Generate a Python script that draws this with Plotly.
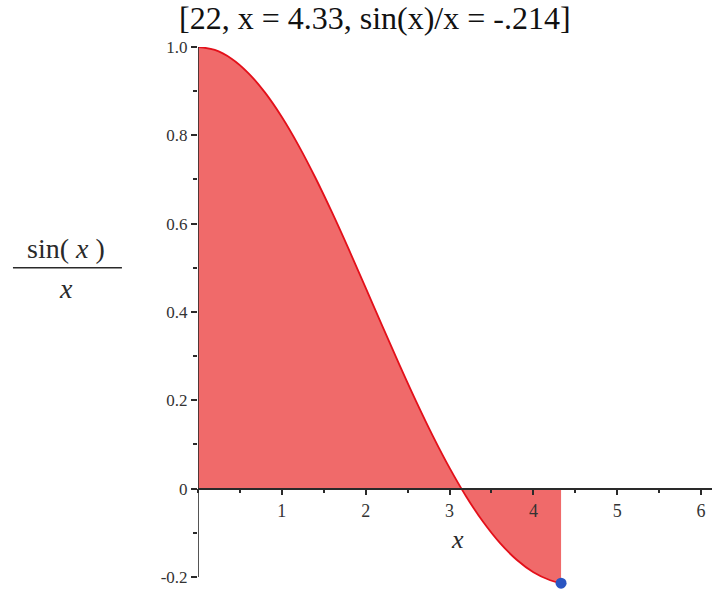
import plotly.graph_objects as go

# Sampled values of sin(x)/x on [0, 4.33]
xs = [0.0, 0.2, 0.4, 0.6, 0.8, 1.0, 1.2, 1.4, 1.6, 1.8, 2.0, 2.2, 2.4, 2.6,
      2.8, 3.0, 3.2, 3.4, 3.6, 3.8, 4.0, 4.2, 4.33]
ys = [1.0, 0.99335, 0.97355, 0.94107, 0.89670, 0.84147, 0.77670, 0.70389,
      0.62473, 0.54103, 0.45465, 0.36750, 0.28144, 0.19827, 0.11964, 0.04704,
      -0.01824, -0.07516, -0.12292, -0.16101, -0.18920, -0.20752, -0.21433]

# Current frame point
pt_x = [4.33]
pt_y = [-0.214]

x_ticks = [1, 2, 3, 4, 5, 6]
x_ticklabels = ["1", "2", "3", "4", "5", "6"]
y_ticks = [-0.2, 0, 0.2, 0.4, 0.6, 0.8, 1.0]
y_ticklabels = ["-0.2", "0", "0.2", "0.4", "0.6", "0.8", "1.0"]

title_text = "[22, x = 4.33, sin(x)/x = -.214]"

X_MIN, X_MAX = 0.0, 6.13
Y_MIN, Y_MAX = -0.225, 1.0
AXIS_BOTTOM = -0.2

serif = "Liberation Serif, Times New Roman, serif"
ink = "#2a2a2a"

fig = go.Figure()

fig.add_trace(go.Scatter(
    x=xs, y=ys, mode="lines", line=dict(color="#e3101a", width=1.8, shape="spline"),
    fill="tozeroy", fillcolor="#f06a6a", showlegend=False,
))

fig.add_trace(go.Scatter(
    x=pt_x, y=pt_y, mode="markers",
    marker=dict(color="#2a55c2", size=11), cliponaxis=False, showlegend=False,
))

zero_pos = (0 - Y_MIN) / (Y_MAX - Y_MIN)

fig.update_layout(
    width=716, height=597,
    margin=dict(l=198, r=4, t=47, b=597 - 47 - round(442 * (Y_MAX - Y_MIN))),
    paper_bgcolor="white", plot_bgcolor="white",
    font=dict(family=serif, color=ink),
    xaxis=dict(
        range=[X_MIN, X_MAX], anchor="free", position=zero_pos,
        showgrid=False, zeroline=False, showline=True, linecolor=ink, linewidth=1.6,
        ticks="outside", ticklen=6, tickwidth=1.6, tickcolor=ink,
        tickvals=x_ticks, ticktext=x_ticklabels, tickfont=dict(size=18, color="#333333"),
        minor=dict(dtick=0.5, tick0=0, ticks="outside", ticklen=4, tickwidth=1.6, tickcolor=ink),
    ),
    yaxis=dict(
        range=[Y_MIN, Y_MAX], showgrid=False, zeroline=False, showline=False,
        ticks="outside", ticklen=6, tickwidth=1.6, tickcolor=ink,
        tickvals=y_ticks, ticktext=y_ticklabels, tickfont=dict(size=17, color="#333333"),
        minor=dict(tickvals=[-0.1, 0.1, 0.3, 0.5, 0.7, 0.9], ticks="outside",
                   ticklen=4, tickwidth=1.6, tickcolor=ink),
    ),
    annotations=[
        dict(text=title_text, xref="paper", yref="paper", x=0.344, y=1.0, yshift=9,
             xanchor="center", yanchor="bottom", showarrow=False,
             font=dict(family=serif, size=32, color="#111111")),
        dict(text="<i>x</i>", xref="x", yref="y", x=3.1, y=-0.115,
             showarrow=False, font=dict(family=serif, size=26, color=ink)),
        dict(text="sin( <i>x</i> )", xref="paper", yref="paper", x=-0.257, y=0.627,
             xanchor="center", yanchor="middle", showarrow=False,
             font=dict(family=serif, size=28, color=ink)),
        dict(text="<i>x</i>", xref="paper", yref="paper", x=-0.257, y=0.553,
             xanchor="center", yanchor="middle", showarrow=False,
             font=dict(family=serif, size=28, color=ink)),
    ],
    shapes=[
        # fraction bar of the y-axis label
        dict(type="line", xref="paper", yref="paper", x0=-0.36, x1=-0.148,
             y0=0.592, y1=0.592, line=dict(color=ink, width=1.6)),
        # vertical axis line from -0.2 up to 1.0
        dict(type="line", xref="x", yref="y", x0=0, x1=0, y0=AXIS_BOTTOM, y1=Y_MAX,
             line=dict(color=ink, width=1.6), layer="above"),
    ],
)

fig.write_html("out.html")
